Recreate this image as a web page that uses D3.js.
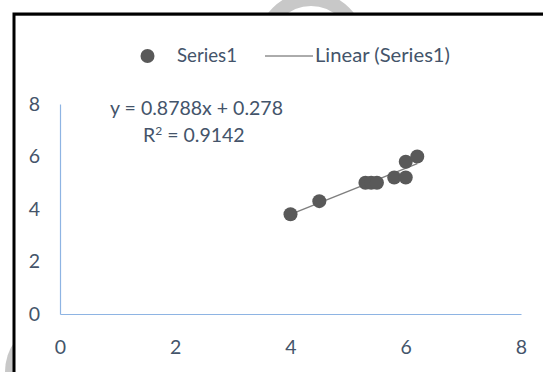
<!DOCTYPE html>
<html><head><meta charset="utf-8">
<script src="https://cdn.jsdelivr.net/npm/d3@7"></script>
<style>body{margin:0;background:#fff}svg{display:block}</style>
</head><body>
<script>
const xValues = [4.0, 4.5, 5.3, 5.4, 5.5, 5.8, 6.0, 6.0, 6.2];
const yValues = [3.8, 4.3, 5.0, 5.0, 5.0, 5.2, 5.2, 5.8, 6.0];
const xTicks = [0, 2, 4, 6, 8];
const yTicks = [0, 2, 4, 6, 8];
const slope = 0.8788, intercept = 0.278, r2 = 0.9142;
const seriesName = "Series1";

const W = 543, H = 372;
const font = "Lato, 'Open Sans', sans-serif";
const txt = "#44546a";
const fs = 19.5;
const svg = d3.select("body").append("svg").attr("width", W).attr("height", H);

// watermark fragments
svg.append("circle").attr("cx", 311).attr("cy", 46).attr("r", 47)
  .attr("fill", "none").attr("stroke", "#c8c8c8").attr("stroke-width", 14);
svg.append("ellipse").attr("cx", 40).attr("cy", 372).attr("rx", 35).attr("ry", 44)
  .attr("fill", "#c8c8c8");

// chart area
svg.append("rect").attr("x", 14.5).attr("y", 15.5).attr("width", 600).attr("height", 400)
  .attr("fill", "#fff").attr("stroke", "#999").attr("stroke-width", 1);
svg.append("rect").attr("x", 14).attr("y", 14).attr("width", 600).attr("height", 400)
  .attr("fill", "none").attr("stroke", "#000").attr("stroke-width", 3);

const x = d3.scaleLinear().domain([0, 8]).range([60, 521]);
const y = d3.scaleLinear().domain([0, 8]).range([314, 104]);

const axCol = "#8eb4e3";
const gx = svg.append("g").attr("transform", `translate(0,${y(0)})`)
  .call(d3.axisBottom(x).tickValues(xTicks).tickSize(0).tickPadding(26));
gx.select(".domain").attr("stroke", axCol).attr("stroke-width", 1.2);
gx.selectAll("text").attr("fill", txt).attr("font-family", font).attr("font-size", fs);

const gy = svg.append("g").attr("transform", `translate(${x(0)},0)`)
  .call(d3.axisLeft(y).tickValues(yTicks).tickSize(0).tickPadding(20));
gy.select(".domain").attr("stroke", axCol).attr("stroke-width", 1.2);
gy.selectAll("text").attr("fill", txt).attr("font-family", font).attr("font-size", fs);

// trendline
const x0 = d3.min(xValues), x1 = d3.max(xValues);
svg.append("line")
  .attr("x1", x(x0)).attr("y1", y(slope * x0 + intercept))
  .attr("x2", x(x1)).attr("y2", y(slope * x1 + intercept))
  .attr("stroke", "#7f7f7f").attr("stroke-width", 1.5);

// points
svg.append("g").selectAll("circle").data(xValues.map((v, i) => [v, yValues[i]]))
  .join("circle").attr("cx", d => x(d[0])).attr("cy", d => y(d[1])).attr("r", 7)
  .attr("fill", "#595959");

// equation
svg.append("text").attr("x", 110).attr("y", 115)
  .attr("fill", txt).attr("font-family", font).attr("font-size", fs)
  .attr("textLength", 173).attr("lengthAdjust", "spacingAndGlyphs")
  .text(`y = ${slope}x + ${intercept}`);
const rt = svg.append("text").attr("x", 143).attr("y", 142)
  .attr("fill", txt).attr("font-family", font).attr("font-size", fs);
rt.append("tspan").text("R");
rt.append("tspan").attr("dy", -7).attr("font-size", 12).text("2");
rt.append("tspan").attr("dy", 7).text(` = ${r2}`);

// legend
svg.append("circle").attr("cx", 147.5).attr("cy", 56).attr("r", 7).attr("fill", "#595959");
svg.append("text").attr("x", 177).attr("y", 62).attr("fill", txt)
  .attr("font-family", font).attr("font-size", fs)
  .attr("textLength", 60).attr("lengthAdjust", "spacingAndGlyphs").text(seriesName);
svg.append("line").attr("x1", 265).attr("x2", 313).attr("y1", 56).attr("y2", 56)
  .attr("stroke", "#595959").attr("stroke-width", 1);
svg.append("text").attr("x", 315).attr("y", 62).attr("fill", txt)
  .attr("font-family", font).attr("font-size", fs)
  .attr("textLength", 135).attr("lengthAdjust", "spacingAndGlyphs").text(`Linear (${seriesName})`);
</script>
</body></html>
